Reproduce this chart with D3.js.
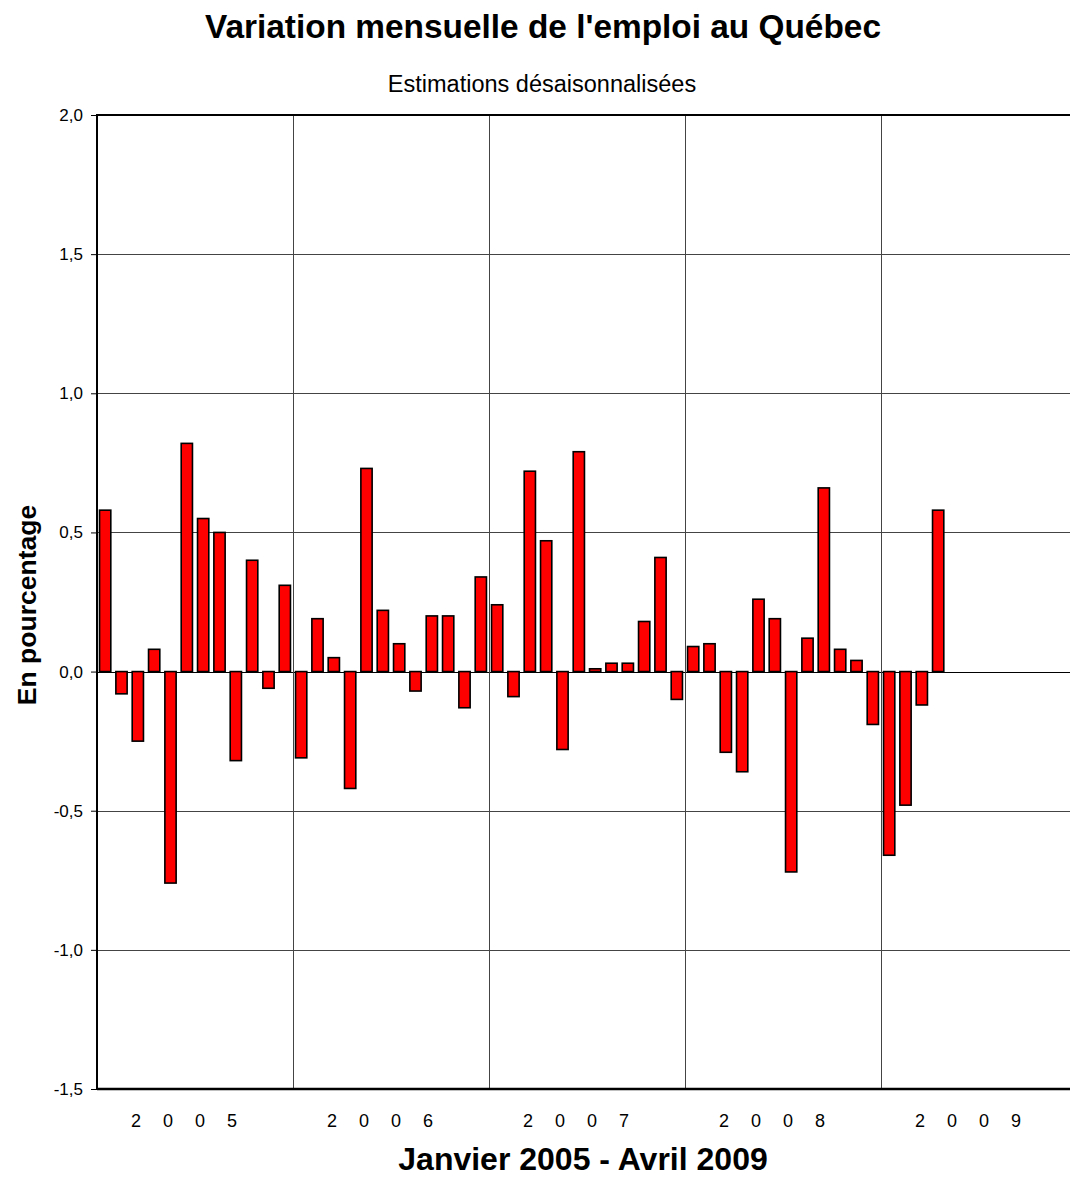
<!DOCTYPE html>
<html>
<head>
<meta charset="utf-8">
<script src="https://cdn.jsdelivr.net/npm/d3@7"></script>
<style>
  body { margin: 0; background: #fff; }
  svg { display: block; font-family: "Liberation Sans", Arial, sans-serif; }
</style>
</head>
<body>
<div id="chart"></div>
<script>
// monthly employment change, Quebec (%), seasonally adjusted
var years = ['2005', '2006', '2007', '2008', '2009'];
var months = ['jan', 'fev', 'mar', 'avr', 'mai', 'jun', 'jul', 'aou', 'sep', 'oct', 'nov', 'dec'];

var v2005 = [0.58, -0.08, -0.25, 0.08, -0.76, 0.82, 0.55, 0.50, -0.32, 0.40, -0.06, 0.31];
var v2006 = [-0.31, 0.19, 0.05, -0.42, 0.73, 0.22, 0.10, -0.07, 0.20, 0.20, -0.13, 0.34];
var v2007 = [0.24, -0.09, 0.72, 0.47, -0.28, 0.79, 0.01, 0.03, 0.03, 0.18, 0.41, -0.10];
var v2008 = [0.09, 0.10, -0.29, -0.36, 0.26, 0.19, -0.72, 0.12, 0.66, 0.08, 0.04, -0.19];
var v2009 = [-0.66, -0.48, -0.12, 0.58];

var yTicks = [-1.5, -1.0, -0.5, 0, 0.5, 1.0, 1.5, 2.0];

var W = 1070, H = 1186;
// note: "top" is taken by window.top, so plot* names
var plotLeft = 97, plotRight = 1077, plotTop = 115, plotBottom = 1089;

var allValues = [v2005, v2006, v2007, v2008, v2009];
var data = [];
years.forEach(function(y, i) {
	allValues[i].forEach(function(v, j) {
		data.push({ key: y + '-' + months[j], v: v });
	});
});
var monthKeys = [];
years.forEach(function(y) {
	months.forEach(function(m) { monthKeys.push(y + '-' + m); });
});

var svg = d3.select('#chart').append('svg')
	.attr('width', W)
	.attr('height', H);

var x = d3.scaleBand()
	.domain(monthKeys)
	.range([plotLeft, plotRight])
	.paddingInner(0.31)
	.paddingOuter(0.155);

var xYear = d3.scaleBand()
	.domain(years)
	.range([plotLeft, plotRight]);

var y = d3.scaleLinear()
	.domain([-1.5, 2.0])
	.range([plotBottom, plotTop]);

var fmt = function(d) { return d3.format('.1f')(d).replace('.', ',').replace('−', '-'); };

// grid
var grid = svg.append('g').attr('stroke-width', 1);
grid.selectAll('.hgrid')
	.data(yTicks.filter(function(d) { return d > -1.5 && d < 2.0; }))
	.enter().append('line')
	.attr('x1', plotLeft).attr('x2', plotRight)
	.attr('y1', function(d) { return Math.round(y(d)) + 0.5; })
	.attr('y2', function(d) { return Math.round(y(d)) + 0.5; })
	.attr('stroke', function(d) { return d === 0 ? '#000' : '#444'; });

grid.selectAll('.vgrid')
	.data(years.slice(1))
	.enter().append('line')
	.attr('x1', function(d) { return Math.round(xYear(d)) + 0.5; })
	.attr('x2', function(d) { return Math.round(xYear(d)) + 0.5; })
	.attr('y1', plotTop).attr('y2', plotBottom)
	.attr('stroke', '#444');

// bars
svg.append('g').selectAll('rect')
	.data(data)
	.enter().append('rect')
	.attr('x', function(d) { return x(d.key); })
	.attr('width', x.bandwidth())
	.attr('y', function(d) { return y(Math.max(0, d.v)); })
	.attr('height', function(d) { return Math.abs(y(d.v) - y(0)); })
	.attr('fill', '#ff0000')
	.attr('stroke', '#000')
	.attr('stroke-width', 1.6);

// frame
var frame = svg.append('g').attr('stroke', '#000').attr('fill', 'none');
frame.append('line').attr('x1', plotLeft).attr('x2', plotRight).attr('y1', plotTop).attr('y2', plotTop).attr('stroke-width', 2);
frame.append('line').attr('x1', plotLeft).attr('x2', plotRight).attr('y1', plotBottom).attr('y2', plotBottom).attr('stroke-width', 2.5);
frame.append('line').attr('x1', plotLeft).attr('x2', plotLeft).attr('y1', plotTop - 1).attr('y2', plotBottom + 1).attr('stroke-width', 2);

// y axis
var yAxis = d3.axisLeft(y)
	.tickValues(yTicks)
	.tickSize(6)
	.tickPadding(8)
	.tickFormat(fmt);
var ya = svg.append('g')
	.attr('transform', 'translate(' + plotLeft + ',0)')
	.call(yAxis);
ya.select('.domain').remove();
ya.attr('font-size', 17).attr('font-family', '"Liberation Sans", Arial, sans-serif');
ya.selectAll('.tick line').attr('stroke', '#000');
ya.selectAll('.tick text').attr('fill', '#000');

// year labels
svg.append('g').selectAll('text')
	.data(years)
	.enter().append('text')
	.attr('x', function(d) { return xYear(d) + xYear.bandwidth() / 2; })
	.attr('y', 1127)
	.attr('text-anchor', 'middle')
	.attr('font-size', 18)
	.style('letter-spacing', '22px')
	.text(function(d) { return d; });

// titles
svg.append('text')
	.attr('x', 543).attr('y', 38)
	.attr('text-anchor', 'middle')
	.attr('font-size', 33.4)
	.attr('font-weight', 'bold')
	.text("Variation mensuelle de l'emploi au Québec");

svg.append('text')
	.attr('x', 542).attr('y', 92)
	.attr('text-anchor', 'middle')
	.attr('font-size', 23.5)
	.text('Estimations désaisonnalisées');

svg.append('text')
	.attr('transform', 'translate(36,605) rotate(-90)')
	.attr('text-anchor', 'middle')
	.attr('font-size', 26.5)
	.attr('font-weight', 'bold')
	.text('En pourcentage');

svg.append('text')
	.attr('x', 583).attr('y', 1170)
	.attr('text-anchor', 'middle')
	.attr('font-size', 32)
	.attr('font-weight', 'bold')
	.text('Janvier 2005 - Avril 2009');
</script>
</body>
</html>
